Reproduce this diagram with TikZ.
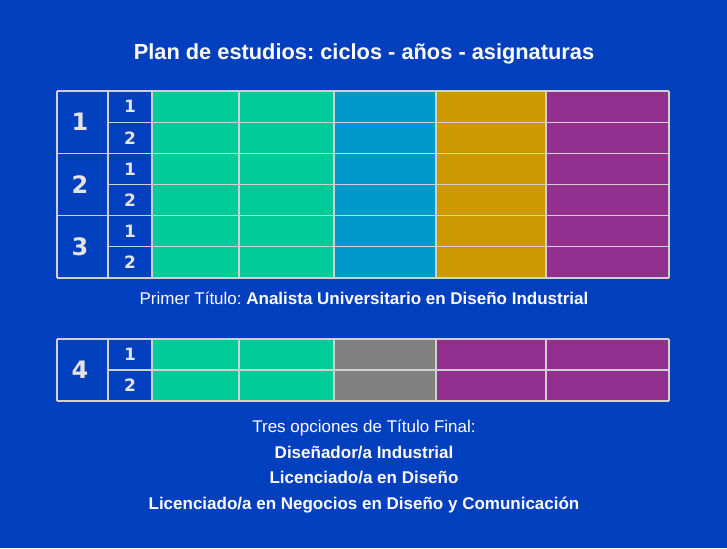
\documentclass[tikz,border=0pt]{standalone}
\usepackage{fontspec}
\setmainfont{Liberation Sans}
\newfontfamily\numfont{DejaVu Sans}
\frenchspacing
\definecolor{bgblue}{HTML}{0040BF}
\definecolor{cgreen}{HTML}{00CC99}
\definecolor{ccyan}{HTML}{0099CC}
\definecolor{cgold}{HTML}{CC9900}
\definecolor{cpurple}{HTML}{932F8F}
\definecolor{cgray}{HTML}{808080}
\definecolor{gridline}{HTML}{D0D0D0}
\definecolor{numcol}{HTML}{E4E4E4}
\tikzset{
  gridln/.style={draw=gridline, line width=1.2pt},
  bignum/.style={text=numcol, font=\numfont\bfseries\fontsize{24}{28}\selectfont, inner sep=0pt},
  smallnum/.style={text=numcol, font=\numfont\bfseries\fontsize{17}{20}\selectfont, inner sep=0pt},
  txt/.style={text=white, font=\frenchspacing\fontsize{17}{20}\selectfont, inner sep=0pt, anchor=base},
  btxt/.style={text=white, font=\frenchspacing\bfseries\fontsize{17}{20}\selectfont, inner sep=0pt, anchor=base},
  ttl/.style={text=white, font=\frenchspacing\bfseries\fontsize{21.8}{26}\selectfont, inner sep=0pt, anchor=base}
}
\begin{document}
\begin{tikzpicture}[x=1pt,y=-1pt]
\fill[bgblue] (0,0) rectangle (727,548);
\useasboundingbox (0,0) rectangle (727,548);
% title
\node[ttl] (title) at (364,59.5) {Plan de estudios: ciclos - años - asignaturas};
% table 1 fills
\fill[cgreen] (152,91) rectangle (334,278);
\fill[ccyan] (334,91) rectangle (436,278);
\fill[cgold] (436,91) rectangle (546,278);
\fill[cpurple] (546,91) rectangle (669,278);
% table 1 grid
\foreach \y in {91,122.2,153.3,184.5,215.7,246.8,278} {
  \draw[gridln] (108,\y) -- (669,\y);
}
\foreach \y in {91,153.3,215.7,278} {
  \draw[gridln] (57,\y) -- (108,\y);
}
\foreach \x in {57,108,152,239,334,436,546,669} {
  \draw[gridln] (\x,91) -- (\x,278);
}
% numbers table 1
\node[bignum] (c1) at (80,122.2) {1};
\node[bignum] (c2) at (80,184.5) {2};
\node[bignum] (c3) at (80,246.8) {3};
\node[smallnum] (a11) at (130,106.6) {1};
\node[smallnum] (a12) at (130,137.8) {2};
\node[smallnum] (a21) at (130,168.9) {1};
\node[smallnum] (a22) at (130,200.1) {2};
\node[smallnum] (a31) at (130,231.2) {1};
\node[smallnum] (a32) at (130,262.4) {2};
% first title
\node[txt] (primer) at (364,304) {Primer Título: {\bfseries Analista Universitario en Diseño Industrial}};
% table 2 fills
\fill[cgreen] (152,339) rectangle (334,401);
\fill[cgray] (334,339) rectangle (436,401);
\fill[cpurple] (436,339) rectangle (669,401);
% table 2 grid
\foreach \y in {339,370,401} {
  \draw[gridln] (108,\y) -- (669,\y);
}
\foreach \y in {339,401} {
  \draw[gridln] (57,\y) -- (108,\y);
}
\foreach \x in {57,108,152,239,334,436,546,669} {
  \draw[gridln] (\x,339) -- (\x,401);
}
\node[bignum] (c4) at (80,370) {4};
\node[smallnum] (a41) at (130,354.5) {1};
\node[smallnum] (a42) at (130,385.5) {2};
% final titles
\node[txt] (tres) at (364,432) {Tres opciones de Título Final:};
\node[btxt] (t1) at (364,458) {Diseñador/a Industrial};
\node[btxt] (t2) at (364,483.5) {Licenciado/a en Diseño};
\node[btxt] (t3) at (364,509.5) {Licenciado/a en Negocios en Diseño y Comunicación};
\end{tikzpicture}
\end{document}
